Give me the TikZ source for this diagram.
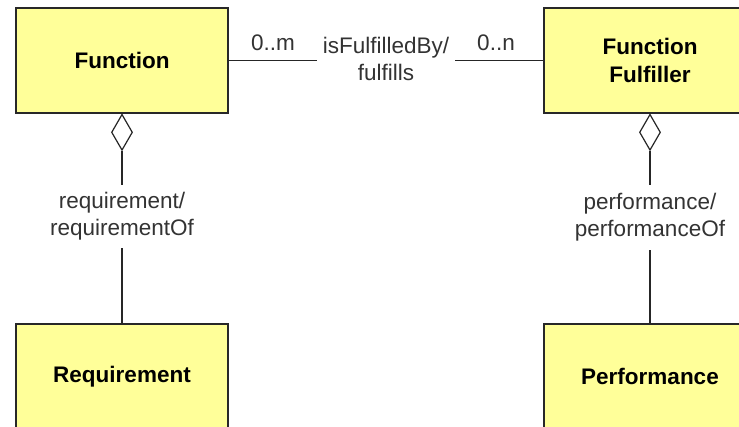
\documentclass[tikz,border=0pt]{standalone}
\usepackage{fontspec}
\setmainfont{Liberation Sans}
\usetikzlibrary{shapes.geometric,shadows}
\definecolor{boxfill}{RGB}{255,255,153}
\definecolor{boxline}{RGB}{40,40,40}
\begin{document}
\begin{tikzpicture}[x=1pt,y=-1pt,
  cls/.style={draw=boxline,line width=1.4pt,fill=boxfill,minimum width=212pt,minimum height=105pt,
    inner sep=0pt,align=center,font=\fontsize{22.5}{28}\selectfont\bfseries,
    drop shadow={shadow xshift=1.2pt,shadow yshift=-1.2pt,opacity=0.45}},
  lbl/.style={align=center,font=\fontsize{22.5}{27}\selectfont,text=black!80,inner sep=0pt},
  conn/.style={draw=black!85,line width=1.3pt},
  agg/.style={diamond,draw=black!85,line width=1.2pt,fill=white,minimum width=21pt,minimum height=36pt,inner sep=0pt}]
\useasboundingbox (0,0) rectangle (739,427);
\clip (0,0) rectangle (739,427);
\fill[white] (0,0) rectangle (739,427);

\node[cls] (fn) at (122,60.5) {Function};
\node[cls] (ff) at (650,60.5) {Function\\Fulfiller};
\node[cls] (rq) at (122,376.5) {Requirement};
\node[cls] (pf) at (650,376.5) {Performance};

% association isFulfilledBy
\node[lbl,minimum width=138pt] (assoc) at (386,59) {isFulfilledBy/\\fulfills};
\draw[conn] (fn.east) -- (fn.east -| assoc.west);
\draw[conn] (ff.west -| assoc.east) -- (ff.west);
\node[lbl] (m) at (273,43) {0..m};
\node[lbl] (n) at (496,43) {0..n};

% aggregation requirement
\node[agg,anchor=north] (d1) at (fn.south) {};
\node[lbl,minimum height=63pt] (r1) at (122,216.5) {requirement/\\requirementOf};
\draw[conn] (d1.south) -- (r1.north);
\draw[conn] (r1.south) -- (rq.north);

% aggregation performance
\node[agg,anchor=north] (d2) at (ff.south) {};
\node[lbl,minimum height=65pt] (r2) at (650,217.5) {performance/\\performanceOf};
\draw[conn] (d2.south) -- (r2.north);
\draw[conn] (r2.south) -- (pf.north);
\end{tikzpicture}
\end{document}
